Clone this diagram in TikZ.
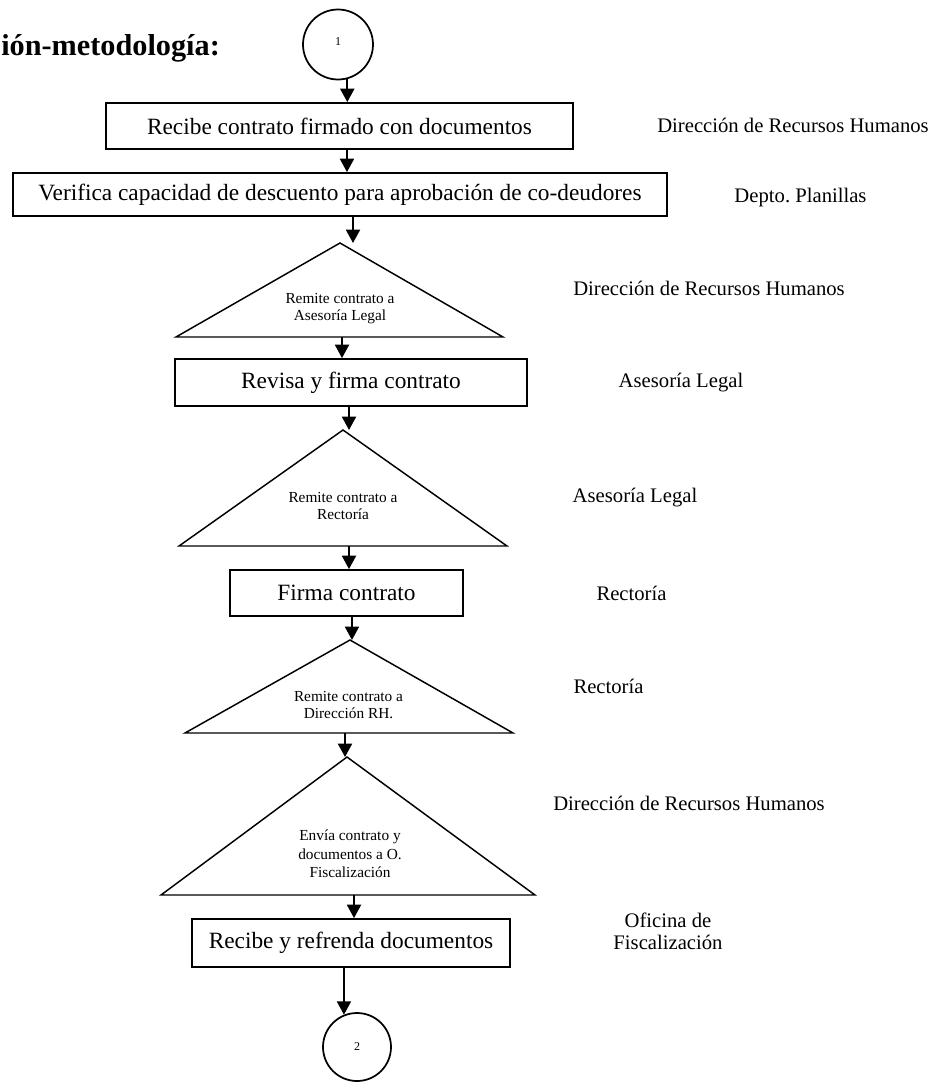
\documentclass[tikz,border=0pt]{standalone}
\usepackage{fontspec}
\setmainfont{Liberation Serif}
\frenchspacing
\usetikzlibrary{arrows.meta,calc}
\begin{document}
\begin{tikzpicture}[x=0.75pt,y=-0.75pt,
  stepbox/.style={draw, line width=1.4pt, inner sep=0pt, align=center, font=\fontsize{17.5}{21}\selectfont},
  tri/.style={draw, line width=1.1pt, line join=miter},
  ttext/.style={inner sep=0pt, align=center, font=\fontsize{11.5}{13.3}\selectfont},
  lbl/.style={inner sep=0pt, align=center, font=\fontsize{15.5}{16.5}\selectfont},
  conn/.style={draw, line width=1.3pt, circle, minimum size=52.5pt, inner sep=0pt, font=\fontsize{9}{10}\selectfont},
  arr/.style={line width=1.4pt, -{Triangle[width=10.5pt,length=10pt]}}]
\useasboundingbox (0,0) rectangle (936,1082);

% title
\node[anchor=base west, inner sep=0pt, font=\bfseries\fontsize{22.7}{26}\selectfont] (title) at (1,55) {ión-metodología:};

% connectors
\node[conn] (c1) at (338,44.5) {\raisebox{4pt}{1}};
\node[conn, minimum size=51pt] (c2) at (357,1047) {2};

% boxes
\node[stepbox, minimum width=350.25pt, minimum height=34.5pt] (b1) at (339.5,126) {Recibe contrato firmado con documentos};
\node[stepbox, minimum width=490.5pt, minimum height=32.25pt] (b2) at (340,194.5) {Verifica capacidad de descuento para aprobación de co-deudores};
\node[stepbox, minimum width=264pt, minimum height=35.25pt] (b3) at (351,382.5) {Revisa y firma contrato};
\node[stepbox, minimum width=174.75pt, minimum height=34.5pt] (b4) at (346.5,593) {Firma contrato};
\node[stepbox, minimum width=238.5pt, minimum height=36pt] (b5) at (351,943) {Recibe y refrenda documentos};

% triangles
\coordinate (t1top) at (340,243); \coordinate (t1l) at (176,337); \coordinate (t1r) at (503,337); \coordinate (t1out) at (342,337);
\coordinate (t2top) at (343,430); \coordinate (t2l) at (179,546); \coordinate (t2r) at (507,546); \coordinate (t2out) at (349,546);
\coordinate (t3top) at (350,640); \coordinate (t3l) at (185,733); \coordinate (t3r) at (513,733); \coordinate (t3out) at (345,733);
\coordinate (t4top) at (347,757); \coordinate (t4l) at (161,895); \coordinate (t4r) at (535,895); \coordinate (t4out) at (354,895);
\draw[tri] (t1top) -- (t1r) -- (t1l) -- cycle;
\draw[tri] (t2top) -- (t2r) -- (t2l) -- cycle;
\draw[tri] (t3top) -- (t3r) -- (t3l) -- cycle;
\draw[tri] (t4top) -- (t4r) -- (t4l) -- cycle;
\node[ttext] (t1) at (340,308.5) {Remite contrato a\\Asesoría Legal};
\node[ttext] (t2) at (343,506) {Remite contrato a\\Rectoría};
\node[ttext] (t3) at (348.5,705) {Remite contrato a\\Dirección RH.};
\node[ttext, font=\fontsize{11.5}{14}\selectfont] (t4) at (350,854) {Envía contrato y\\documentos a O.\\Fiscalización};

% arrows
\draw[arr] (c1.-75) -- (c1.-75 |- b1.north);
\draw[arr] ([xshift=5.6pt]b1.south) -- ([xshift=5.6pt]b1.south |- b2.north);
\draw[arr] ([xshift=9.75pt]b2.south) -- ([xshift=9.75pt]b2.south |- t1top);
\draw[arr] (t1out) -- (t1out |- b3.north);
\draw[arr] ([xshift=-1.5pt]b3.south) -- ([xshift=-1.5pt]b3.south |- t2top);
\draw[arr] (t2out) -- (t2out |- b4.north);
\draw[arr] ([xshift=4.1pt]b4.south) -- ([xshift=4.1pt]b4.south |- t3top);
\draw[arr] (t3out) -- (t3out |- t4top);
\draw[arr] (t4out) -- (t4out |- b5.north);
\draw[arr] ([xshift=-5.25pt]b5.south) -- (c2.112.5);

% responsible units
\node[lbl] (l1) at (793,125) {Dirección de Recursos Humanos};
\node[lbl] (l2) at (800.5,198) {Depto. Planillas};
\node[lbl] (l3) at (709,288) {Dirección de Recursos Humanos};
\node[lbl] (l4) at (681,383) {Asesoría Legal};
\node[lbl] (l5) at (635,498) {Asesoría Legal};
\node[lbl] (l6) at (631.5,593) {Rectoría};
\node[lbl] (l7) at (608.5,686) {Rectoría};
\node[lbl] (l8) at (689,803) {Dirección de Recursos Humanos};
\node[lbl] (l9) at (668,931) {Oficina de\\Fiscalización};
\end{tikzpicture}
\end{document}
